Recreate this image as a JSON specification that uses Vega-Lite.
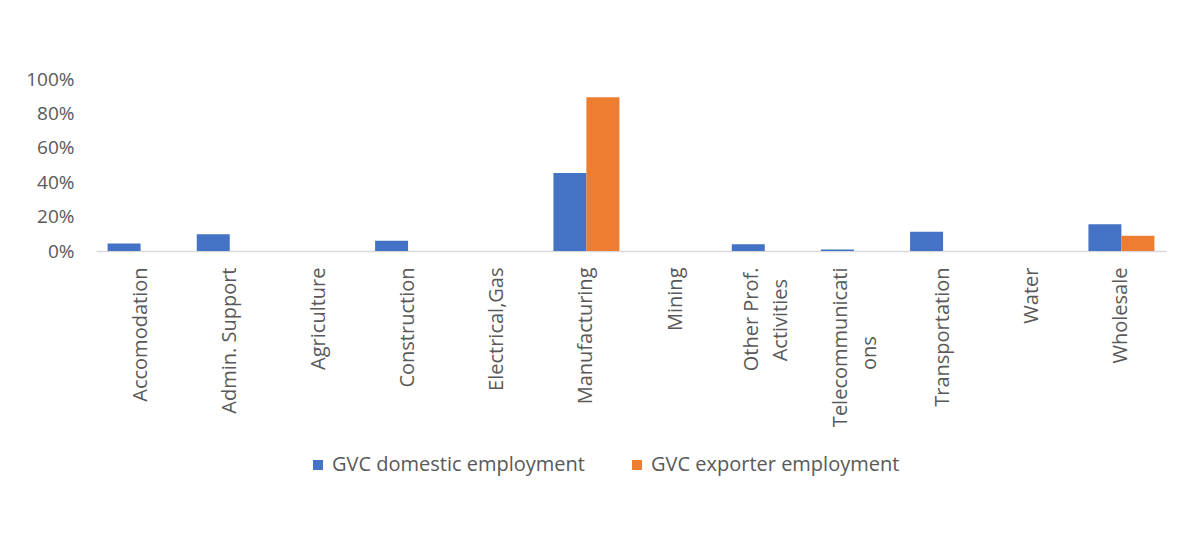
{
  "$schema": "https://vega.github.io/schema/vega-lite/v6.json",
  "width": 1070,
  "height": 172,
  "autosize": {"type": "none"},
  "padding": {"left": 96, "top": 79, "right": 24, "bottom": 301},
  "background": "white",
  "config": {"view": {"stroke": null}, "font": "Open Sans"},
  "data": {
    "values": [
      {"sector": "Accomodation", "series": "GVC domestic employment", "value": 0.043},
      {"sector": "Accomodation", "series": "GVC exporter employment", "value": 0},
      {"sector": "Admin. Support", "series": "GVC domestic employment", "value": 0.098},
      {"sector": "Admin. Support", "series": "GVC exporter employment", "value": 0},
      {"sector": "Agriculture", "series": "GVC domestic employment", "value": 0},
      {"sector": "Agriculture", "series": "GVC exporter employment", "value": 0},
      {"sector": "Construction", "series": "GVC domestic employment", "value": 0.059},
      {"sector": "Construction", "series": "GVC exporter employment", "value": 0},
      {"sector": "Electrical,Gas", "series": "GVC domestic employment", "value": 0},
      {"sector": "Electrical,Gas", "series": "GVC exporter employment", "value": 0},
      {"sector": "Manufacturing", "series": "GVC domestic employment", "value": 0.453},
      {"sector": "Manufacturing", "series": "GVC exporter employment", "value": 0.894},
      {"sector": "Mining", "series": "GVC domestic employment", "value": 0},
      {"sector": "Mining", "series": "GVC exporter employment", "value": 0},
      {"sector": "Other Prof. Activities", "series": "GVC domestic employment", "value": 0.039},
      {"sector": "Other Prof. Activities", "series": "GVC exporter employment", "value": 0},
      {"sector": "Telecommunications", "series": "GVC domestic employment", "value": 0.009},
      {"sector": "Telecommunications", "series": "GVC exporter employment", "value": 0},
      {"sector": "Transportation", "series": "GVC domestic employment", "value": 0.112},
      {"sector": "Transportation", "series": "GVC exporter employment", "value": 0},
      {"sector": "Water", "series": "GVC domestic employment", "value": 0},
      {"sector": "Water", "series": "GVC exporter employment", "value": 0},
      {"sector": "Wholesale", "series": "GVC domestic employment", "value": 0.155},
      {"sector": "Wholesale", "series": "GVC exporter employment", "value": 0.088}
    ]
  },
  "mark": {"type": "bar"},
  "encoding": {
    "x": {
      "field": "sector",
      "type": "nominal",
      "sort": null,
      "scale": {"paddingInner": 0.26, "paddingOuter": 0.13},
      "axis": {
        "title": null,
        "labelAngle": -90,
        "labelFontSize": 20,
        "labelColor": "#595959",
        "labelPadding": 16,
        "labelLineHeight": 29,
        "labelLimit": 400,
        "ticks": false,
        "domainColor": "#d9d9d9",
        "domainWidth": 1.5,
        "labelOffset": {"condition": {"test": "datum.value == 'Other Prof. Activities' || datum.value == 'Telecommunications'", "value": -13}, "value": 0},
        "labelExpr": "datum.value == 'Other Prof. Activities' ? ['Other Prof.', 'Activities\u2007\u2060'] : datum.value == 'Telecommunications' ? ['Telecommunicati', 'ons\u2007\u2007\u2007\u2007\u2007\u2007\u2060'] : datum.label"
      }
    },
    "xOffset": {"field": "series", "type": "nominal", "sort": ["GVC domestic employment", "GVC exporter employment"]},
    "y": {
      "field": "value",
      "type": "quantitative",
      "scale": {"domain": [0, 1]},
      "axis": {
        "title": null,
        "values": [0, 0.2, 0.4, 0.6, 0.8, 1],
        "format": ".0%",
        "labelFontSize": 19,
        "labelColor": "#595959",
        "labelPadding": 22,
        "ticks": false,
        "domain": false,
        "grid": false
      }
    },
    "color": {
      "field": "series",
      "type": "nominal",
      "scale": {"domain": ["GVC domestic employment", "GVC exporter employment"], "range": ["#4472C4", "#ED7D31"]},
      "legend": {
        "title": null,
        "orient": "none",
        "legendX": 212,
        "legendY": 376,
        "direction": "horizontal",
        "symbolType": "square",
        "symbolSize": 100,
        "symbolStrokeWidth": 0,
        "labelFontSize": 20,
        "labelColor": "#595959",
        "labelLimit": 400,
        "columnPadding": 42,
        "labelOffset": 4
      }
    }
  }
}
